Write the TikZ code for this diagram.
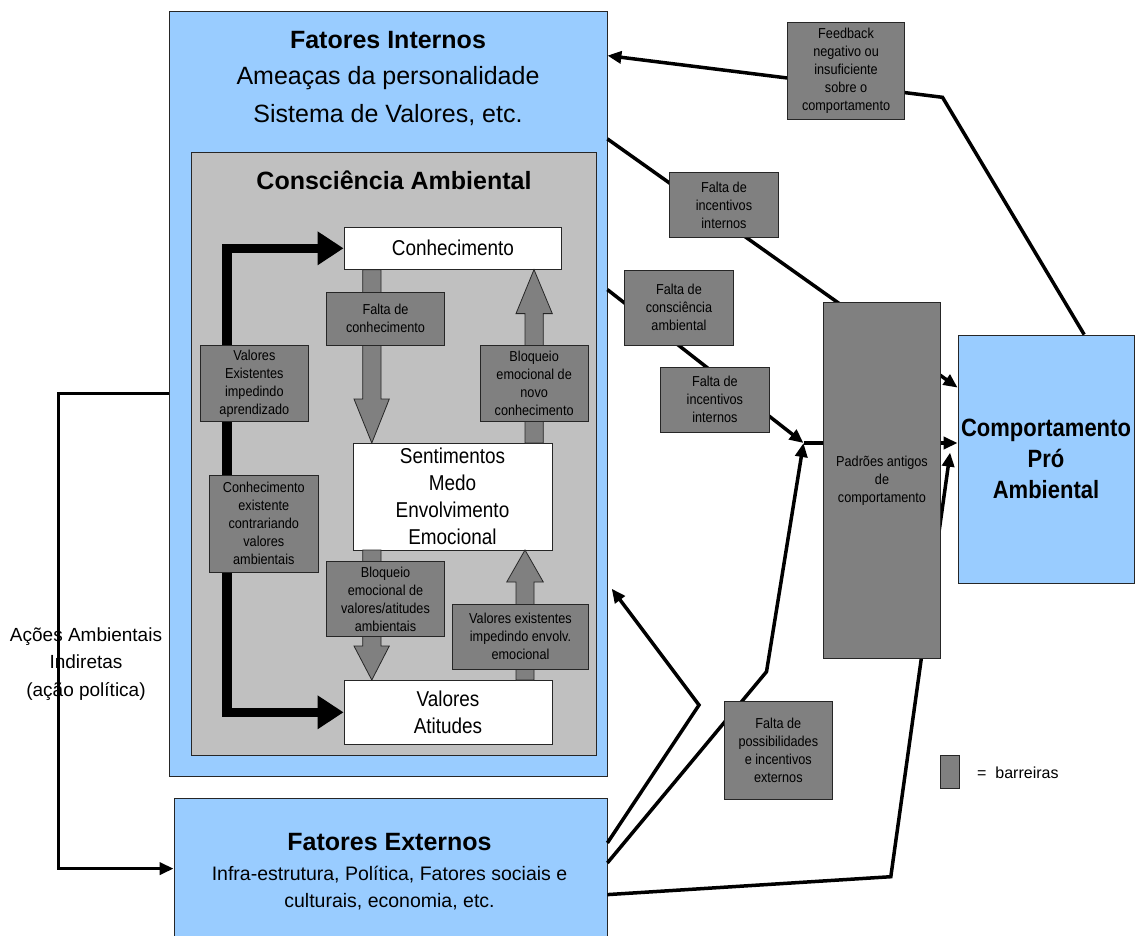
\documentclass[tikz,border=0pt]{standalone}
\usepackage{fontspec}
\setmainfont{Liberation Sans}
\newfontfamily\nf[FakeStretch=0.88]{Liberation Sans}
\usetikzlibrary{arrows.meta,calc}
\definecolor{lblue}{HTML}{99CCFF}
\definecolor{lgrey}{HTML}{C0C0C0}
\definecolor{dgrey}{HTML}{808080}
\pgfdeclarelayer{bg}\pgfdeclarelayer{mid}\pgfsetlayers{bg,mid,main}
\begin{document}
\begin{tikzpicture}[x=1pt,y=-1pt,
 box/.style={draw=black!85, line width=0.8pt, inner sep=0pt, align=center},
 bluebox/.style={box, fill=lblue},
 whitebox/.style={box, fill=white, font=\nf\fontsize{21.5}{27}\selectfont},
 barrier/.style={box, fill=dgrey, font=\nf\fontsize{14.4}{18}\selectfont},
 conn/.style={line width=3.5pt, draw=black},
 arr/.style={-{Triangle[length=14pt,width=12pt]}},
 thickarrow/.style={line width=9.5pt, -{Triangle[length=26pt,width=32pt]}},
 blockarrow/.style={fill=dgrey, draw=black!85, line width=0.8pt},
 titletext/.style={font=\bfseries\fontsize{25}{30}\selectfont, inner sep=0pt},
 subtext/.style={font=\fontsize{25}{30}\selectfont, inner sep=0pt},
]
\useasboundingbox (0,0) rectangle (1137,935);

\begin{pgfonlayer}{bg}
\node[bluebox, minimum width=437.5pt, minimum height=765pt] (fi) at (388.25,393.5) {};
\node[bluebox, minimum width=433pt, minimum height=152pt] (fe) at (390.5,874) {};
\node[bluebox, minimum width=176pt, minimum height=248.3pt, font=\nf\bfseries\fontsize{25}{31}\selectfont] (comp) at (1046,459.15) {Comportamento\\Pró\\Ambiental};
\node[box, fill=lgrey, minimum width=405pt, minimum height=603pt] (ca) at (393.5,453.5) {};
\node[whitebox, minimum width=217.7pt, minimum height=42.6pt] (conh) at (452.85,248.3) {Conhecimento};
\node[whitebox, minimum width=199pt, minimum height=107pt] (sent) at (452.5,496.5) {Sentimentos\\Medo\\Envolvimento\\Emocional};
\node[whitebox, minimum width=208pt, minimum height=64.6pt] (val) at (448,712.3) {Valores\\Atitudes};
\end{pgfonlayer}

\begin{pgfonlayer}{mid}
% block arrows
\draw[blockarrow] (362.7,269.6) -- (381,269.6) -- (381,399) -- (389.3,399) -- (371.8,443) -- (354,399) -- (362.7,399) -- cycle;
\draw[blockarrow] (525,443) -- (543.3,443) -- (543.3,313.6) -- (552.3,313.6) -- (534,269.6) -- (516,313.6) -- (525,313.6) -- cycle;
\draw[blockarrow] (362.7,550) -- (381,550) -- (381,646) -- (389.3,646) -- (371.8,680) -- (354,646) -- (362.7,646) -- cycle;
\draw[blockarrow] (516,680) -- (534,680) -- (534,582) -- (543.3,582) -- (525,550) -- (506.7,582) -- (516,582) -- cycle;
% thick arrows
\coordinate (tk) at (227.2,480);
\draw[thickarrow] (tk) |- (conh.west);
\draw[thickarrow] (tk) |- (val.west);
% connectors
\coordinate (fbk) at (942.5,97.3);
\coordinate (J) at (803.5,443);
\coordinate (k1) at (766.5,671.7);
\coordinate (k2) at (699,705);
\coordinate (k3) at (890.8,876.7);
\coordinate (L) at (58.5,0);
\draw[conn,arr] ($(comp.north west)+(126.6,0)$) -- (fbk) -- ($(fi.north east)+(0,45)$);
\draw[conn,arr] ($(fi.north east)+(0,128.3)$) -- ($(comp.north west)+(0,53)$);
\draw[conn,arr] ($(fi.north east)+(0,279)$) -- (J);
\draw[conn,arr] (J) -- (J -| comp.west);
\draw[conn,arr] ($(fe.north east)+(0,65.3)$) -- (k1) -- (J);
\draw[conn,arr] ($(fe.north east)+(0,45.3)$) -- (k2) -- ($(fi.south east)+(4.3,-187.7)$);
\draw[conn,arr] ($(fe.north east)+(0,97)$) -- (k3) -- ($(comp.north west)+(-7.5,118)$);
\draw[conn,arr] (fi.west) -- (fi.west -| L) |- ($(fe.north west)+(0,71)$);
\end{pgfonlayer}

\node[barrier, minimum width=117.6pt, minimum height=53.4pt] (fk) at (385.5,318.7) {Falta de\\conhecimento};
\node[barrier, minimum width=108.3pt, minimum height=75.7pt] (bn) at (534.15,383.55) {Bloqueio\\emocional de\\novo\\conhecimento};
\node[barrier, minimum width=108.7pt, minimum height=75.7pt] (ve) at (254.35,383.55) {Valores\\Existentes\\impedindo\\aprendizado};
\node[barrier, minimum width=109pt, minimum height=97pt] (ce) at (263.8,523.5) {Conhecimento\\existente\\contrariando\\valores\\ambientais};
\node[barrier, minimum width=117.6pt, minimum height=75pt] (bv) at (385.5,598.9) {Bloqueio\\emocional de\\valores/atitudes\\ambientais};
\node[barrier, minimum width=135.6pt, minimum height=64.4pt] (vei) at (520.5,636.8) {Valores existentes\\impedindo envolv.\\emocional};
\node[barrier, minimum width=117.5pt, minimum height=97pt] (fb) at (846.05,70.5) {Feedback\\negativo ou\\insuficiente\\sobre o\\comportamento};
\node[barrier, minimum width=108.9pt, minimum height=64.6pt] (fii1) at (723.95,205) {Falta de\\incentivos\\internos};
\node[barrier, minimum width=108.5pt, minimum height=75pt] (fca) at (678.95,307.5) {Falta de\\consciência\\ambiental};
\node[barrier, minimum width=108.6pt, minimum height=65pt] (fii2) at (714.9,399.8) {Falta de\\incentivos\\internos};
\node[barrier, minimum width=117.4pt, minimum height=356pt] (pad) at (882,480.7) {Padrões antigos\\de\\comportamento};
\node[barrier, minimum width=108.6pt, minimum height=97.3pt] (fpe) at (778.3,750.35) {Falta de\\possibilidades\\e incentivos\\externos};
\node[barrier, minimum width=18.4pt, minimum height=32.3pt] (leg) at (949.8,771.85) {};
\node[anchor=west, inner sep=0pt, font=\fontsize{16}{19}\selectfont] (legt) at (977,773) {=\ \ barreiras};

\node[titletext] (t1) at (388,40) {Fatores Internos};
\node[subtext] (t2) at (388,77.7) {Ameaças da personalidade};
\node[subtext] (t3) at (388,115) {Sistema de Valores, etc.};
\node[titletext] (t4) at (394,180) {Consciência Ambiental};
\node[titletext] (t5) at (389.5,842) {Fatores Externos};
\node[font=\fontsize{19.5}{27}\selectfont, align=center, inner sep=0pt] (t6) at (389.5,888.5) {Infra-estrutura, Política, Fatores sociais e\\culturais, economia, etc.};
\node[font=\fontsize{19}{27.5}\selectfont, align=center, inner sep=0pt] (t7) at (86,664) {Ações Ambientais\\Indiretas\\(ação política)};
\end{tikzpicture}
\end{document}
